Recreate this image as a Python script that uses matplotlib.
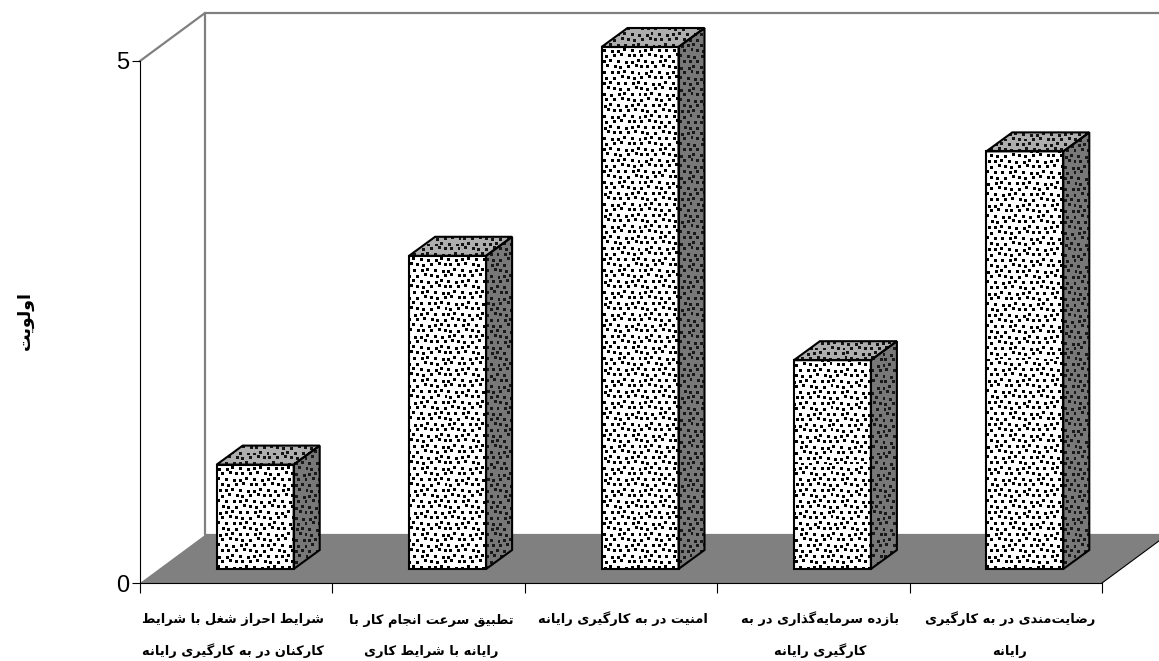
import matplotlib
matplotlib.use('Agg')
import matplotlib.pyplot as plt
from matplotlib.patches import Polygon
import numpy as np

categories = ["شرایط احراز شغل با شرایط\nکارکنان در به کارگیری رایانه",
              "تطبیق سرعت انجام کار با\nرایانه با شرایط کاری",
              "امنیت در به کارگیری رایانه",
              "بازده سرمایه‌گذاری در به\nکارگیری رایانه",
              "رضایت‌مندی در به کارگیری\nرایانه"]
values = [1, 3, 5, 2, 4]
y_ticks = [0, 5]
y_title = "اولویت"

# label nudges in px, the original labels are not centred on the category
label_nudge = [-3, 3, 2, 7, 4]

# matplotlib does no Arabic shaping, so map letters to presentation forms
# order: isolated, final, initial, medial
forms = {
    'ا': (0xFE8D, 0xFE8E), 'آ': (0xFE81, 0xFE82), 'د': (0xFEA9, 0xFEAA), 'ذ': (0xFEAB, 0xFEAC),
    'ر': (0xFEAD, 0xFEAE), 'ز': (0xFEAF, 0xFEB0), 'ژ': (0xFB8A, 0xFB8B), 'و': (0xFEED, 0xFEEE),
    'ب': (0xFE8F, 0xFE90, 0xFE91, 0xFE92), 'پ': (0xFB56, 0xFB57, 0xFB58, 0xFB59),
    'ت': (0xFE95, 0xFE96, 0xFE97, 0xFE98), 'ج': (0xFE9D, 0xFE9E, 0xFE9F, 0xFEA0),
    'ح': (0xFEA1, 0xFEA2, 0xFEA3, 0xFEA4), 'خ': (0xFEA5, 0xFEA6, 0xFEA7, 0xFEA8),
    'س': (0xFEB1, 0xFEB2, 0xFEB3, 0xFEB4), 'ش': (0xFEB5, 0xFEB6, 0xFEB7, 0xFEB8),
    'ض': (0xFEBD, 0xFEBE, 0xFEBF, 0xFEC0), 'ط': (0xFEC1, 0xFEC2, 0xFEC3, 0xFEC4),
    'ع': (0xFEC9, 0xFECA, 0xFECB, 0xFECC), 'غ': (0xFECD, 0xFECE, 0xFECF, 0xFED0),
    'ف': (0xFED1, 0xFED2, 0xFED3, 0xFED4), 'ق': (0xFED5, 0xFED6, 0xFED7, 0xFED8),
    'ک': (0xFB8E, 0xFB8F, 0xFB90, 0xFB91), 'گ': (0xFB92, 0xFB93, 0xFB94, 0xFB95),
    'ل': (0xFEDD, 0xFEDE, 0xFEDF, 0xFEE0), 'م': (0xFEE1, 0xFEE2, 0xFEE3, 0xFEE4),
    'ن': (0xFEE5, 0xFEE6, 0xFEE7, 0xFEE8), 'ه': (0xFEE9, 0xFEEA, 0xFEEB, 0xFEEC),
    'ی': (0xFBFC, 0xFBFD, 0xFBFE, 0xFBFF),
}


def shape(line):
    out = []
    for i, c in enumerate(line):
        if c not in forms:
            if c != '\u200c':
                out.append(c)
            continue
        prev = line[i - 1] if i > 0 else ' '
        nxt = line[i + 1] if i + 1 < len(line) else ' '
        join_prev = prev in forms and len(forms[prev]) == 4
        join_next = nxt in forms and len(forms[c]) == 4
        if join_prev and join_next:
            k = 3
        elif join_prev:
            k = 1
        elif join_next:
            k = 2
        else:
            k = 0
        out.append(chr(forms[c][k]))
    return ''.join(out[::-1])


# stipple tile, square dots on a staggered grid with a small fixed shift
shifts = [0, 1, 0, -1, 0, 0, 1, -1, 0, 1, 0, -1]
tile = np.zeros((88, 84), dtype=bool)
for r in range(16):
    for c in range(12):
        yy = r * 11 // 2 + shifts[(c * 5 + r) % 12]
        xx = c * 7 + (3 if r % 2 else 0) + shifts[(c + r * 7) % 12]
        for a in range(3):
            for b in range(3):
                tile[(yy + a) % 88, (xx + b) % 84] = True
texture = np.tile(tile, (8, 15))

fig = plt.figure(figsize=(11.59, 6.61), dpi=100)
ax = fig.add_axes([140 / 1159, (661 - 583) / 661, 962 / 1159, 522 / 661])
ax.set_xlim(0, 5)
ax.set_ylim(0, 5)
ax.autoscale(False)

# oblique depth in data units
px_x = 5 / 962
px_y = 5 / 522
floor_dx, floor_dy = 65 * px_x, 48 * px_y
bar_dx, bar_dy = 19 * px_x, 14 * px_y
side_dx, side_dy = 26 * px_x, 19 * px_y
bar_w = 77 * px_x

wall = '#808080'
ax.add_patch(Polygon([(0, 0), (floor_dx, floor_dy), (5 + floor_dx, floor_dy), (5, 0)],
                     closed=True, fc=wall, ec='none', clip_on=False, zorder=1))
ax.plot([0, floor_dx, floor_dx, 5 + floor_dx], [5, 5 + floor_dy, floor_dy, floor_dy],
        color=wall, lw=1.6, clip_on=False, zorder=1)
ax.plot([floor_dx, 5 + floor_dx], [5 + floor_dy, 5 + floor_dy], color=wall, lw=1.6,
        clip_on=False, zorder=1)
ax.plot([5, 5 + floor_dx], [0, floor_dy], color='black', lw=0.8, clip_on=False, zorder=2)


def face(pts, bg, fg):
    poly = Polygon(pts, closed=True, fc='none', ec='black', lw=1.5, clip_on=False, zorder=4)
    ax.add_patch(poly)
    xs = [p[0] for p in pts]
    ys = [p[1] for p in pts]
    w = int(round((max(xs) - min(xs)) / px_x)) + 1
    h = int(round((max(ys) - min(ys)) / px_y)) + 1
    off_x = int(min(xs) / px_x) % 84
    off_y = int(max(ys) / px_y) % 88
    dots = texture[off_y:off_y + h, off_x:off_x + w]
    img = np.where(dots, fg, bg).astype(float)
    im = ax.imshow(img, extent=(min(xs), max(xs), min(ys), max(ys)), cmap='gray', vmin=0, vmax=1,
                   interpolation='nearest', aspect='auto', zorder=3)
    # make_image falls back on the axes box when the clip box is None
    im.set_clip_box(fig.bbox)
    im.set_clip_path(poly)


for i, v in enumerate(values):
    x0 = i + 0.5 - bar_w / 2 + bar_dx
    x1 = x0 + bar_w
    y0 = bar_dy
    y1 = v + bar_dy
    face([(x0, y0), (x1, y0), (x1, y1), (x0, y1)], 1.0, 0.0)
    face([(x0, y1), (x1, y1), (x1 + side_dx, y1 + side_dy), (x0 + side_dx, y1 + side_dy)], 0.68, 0.08)
    face([(x1, y0), (x1 + side_dx, y0 + side_dy), (x1 + side_dx, y1 + side_dy), (x1, y1)], 0.47, 0.1)

for s in ('top', 'right'):
    ax.spines[s].set_visible(False)
ax.spines['left'].set_zorder(5)
ax.spines['bottom'].set_zorder(5)
ax.set_yticks(y_ticks)
ax.set_yticklabels([str(t) for t in y_ticks], family='Liberation Sans', fontsize=17)
ax.tick_params(axis='y', length=6, width=0.8, pad=2)
ax.set_xticks(range(6))
ax.set_xticklabels([])
ax.tick_params(axis='x', length=7.5, width=0.8)

# every line gets its own baseline, multiline text spaces unevenly here
for i, name in enumerate(categories):
    for k, line in enumerate(name.split('\n')):
        ax.annotate(shape(line), xy=(i + 0.5, 0), xytext=(label_nudge[i] * 0.72, -29 - k * 23),
                    textcoords='offset points', ha='center', va='baseline', family='DejaVu Sans',
                    fontweight='bold', fontsize=9.4, annotation_clip=False)

fig.text(25 / 1159, 1 - 320 / 661, shape(y_title), rotation=90, ha='center', va='center',
         family='DejaVu Sans', fontweight='bold', fontsize=12.5)

fig.savefig('out.png', dpi=100)
